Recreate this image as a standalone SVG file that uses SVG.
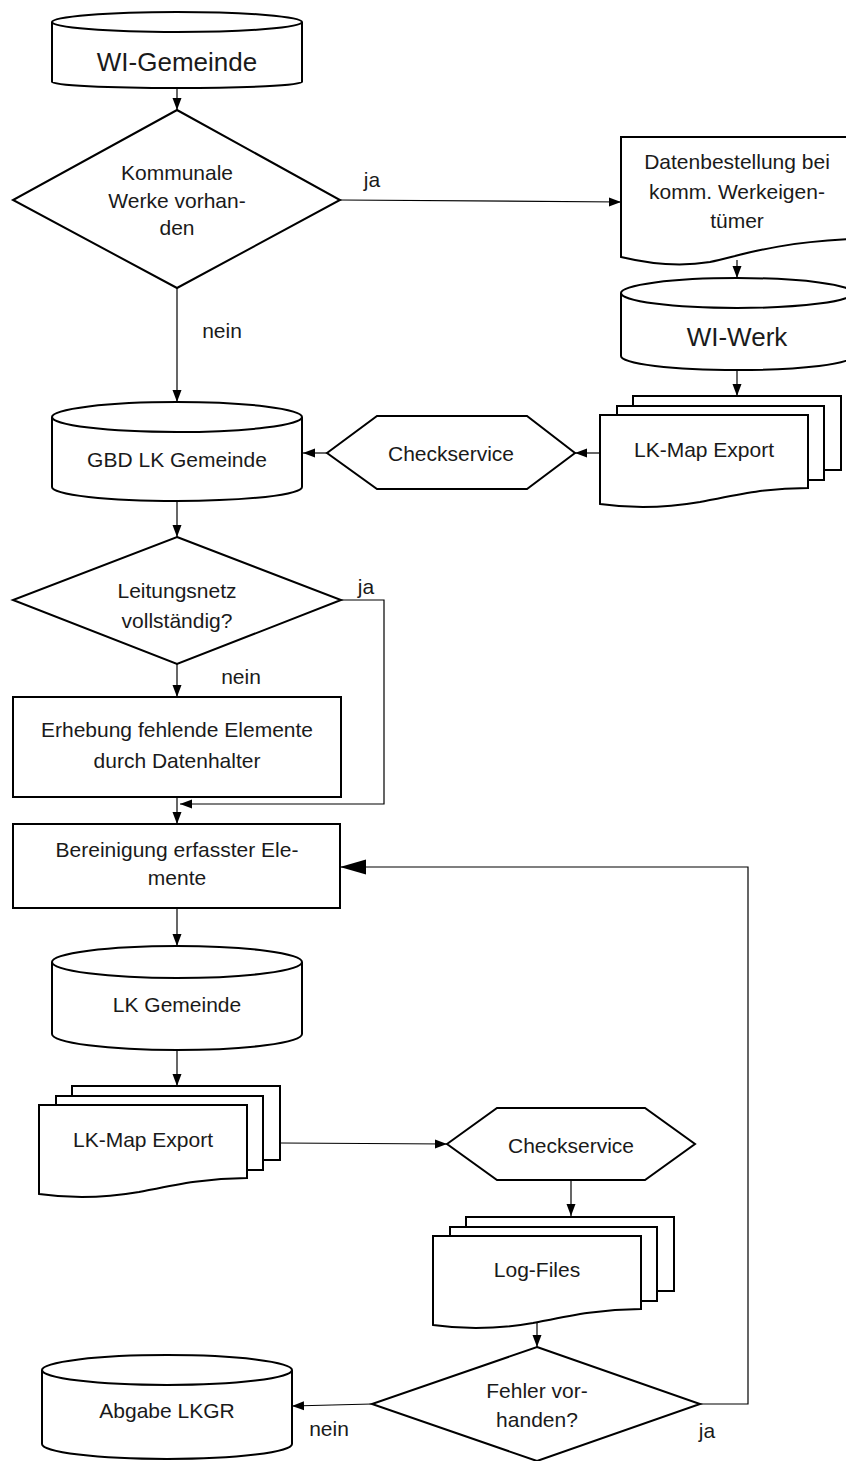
<svg xmlns="http://www.w3.org/2000/svg" xmlns:xlink="http://www.w3.org/1999/xlink" width="846" height="1461" viewBox="0 0 846 1461">
<style>
.s{fill:#fff;stroke:#000;stroke-width:2;stroke-linejoin:miter}
.c{fill:none;stroke:#000;stroke-width:1.2}
.t{font-family:"Liberation Sans",Arial,sans-serif;font-size:21px;fill:#1a1a1a;text-anchor:middle}
.tb{font-family:"Liberation Sans",Arial,sans-serif;font-size:26px;fill:#1a1a1a;text-anchor:middle}
.l{font-family:"Liberation Sans",Arial,sans-serif;font-size:21px;fill:#1a1a1a;text-anchor:middle}
</style>
<defs>
<marker id="ah" markerUnits="userSpaceOnUse" markerWidth="12" markerHeight="10" refX="12" refY="5" orient="auto"><path d="M0,0.5 L12,5 L0,9.5 Z" fill="#000"/></marker>
<marker id="ahb" markerUnits="userSpaceOnUse" markerWidth="26" markerHeight="16" refX="26" refY="8" orient="auto"><path d="M0,0.5 L26,8 L0,15.5 Z" fill="#000"/></marker>
<g id="multidoc">
<rect class="s" x="33" y="-19" width="208" height="74"/>
<rect class="s" x="17" y="-9" width="207" height="74"/>
<path class="s" d="M0,0 H208 V73 C165,73 135,80 100,87 C65,93 35,94 0,89 Z"/>
</g>
</defs>

<g id="connectors">
<line class="c" x1="177" y1="88" x2="177" y2="110" marker-end="url(#ah)"/>
<line class="c" x1="340" y1="200" x2="621" y2="202" marker-end="url(#ah)"/>
<text class="l" x="372" y="187">ja</text>
<line class="c" x1="177" y1="288" x2="177" y2="402" marker-end="url(#ah)"/>
<text class="l" x="222" y="338">nein</text>
<line class="c" x1="737" y1="260" x2="737" y2="278" marker-end="url(#ah)"/>
<line class="c" x1="737" y1="371" x2="737" y2="396" marker-end="url(#ah)"/>
<line class="c" x1="600" y1="453" x2="575" y2="453" marker-end="url(#ah)"/>
<line class="c" x1="327" y1="453" x2="303" y2="453" marker-end="url(#ah)"/>
<line class="c" x1="177" y1="501" x2="177" y2="537" marker-end="url(#ah)"/>
<line class="c" x1="177" y1="664" x2="177" y2="697" marker-end="url(#ah)"/>
<text class="l" x="241" y="684">nein</text>
<polyline class="c" points="341,600 384,600 384,804 180,804" marker-end="url(#ah)"/>
<text class="l" x="366" y="594">ja</text>
<line class="c" x1="177" y1="797" x2="177" y2="824" marker-end="url(#ah)"/>
<line class="c" x1="177" y1="908" x2="177" y2="946" marker-end="url(#ah)"/>
<line class="c" x1="177" y1="1050" x2="177" y2="1086" marker-end="url(#ah)"/>
<line class="c" x1="281" y1="1143" x2="447" y2="1144" marker-end="url(#ah)"/>
<line class="c" x1="571" y1="1180" x2="571" y2="1216" marker-end="url(#ah)"/>
<line class="c" x1="537" y1="1323" x2="537" y2="1347" marker-end="url(#ah)"/>
<line class="c" x1="372" y1="1404" x2="292" y2="1406" marker-end="url(#ah)"/>
<text class="l" x="329" y="1436">nein</text>
<polyline class="c" points="700,1404 748,1404 748,867 340,867" marker-end="url(#ahb)"/>
<text class="l" x="707" y="1438">ja</text>
</g>

<g id="wi-gemeinde">
<path class="s" d="M52,22 V82 A125,6 0 0 0 302,82 V22"/>
<ellipse class="s" cx="177" cy="22" rx="125" ry="10"/>
<text class="tb" x="177" y="71">WI-Gemeinde</text>
</g>

<g id="kommunale-werke">
<polygon class="s" points="177,110 340,200 177,288 13,200"/>
<text class="t" x="177" y="180">Kommunale</text>
<text class="t" x="177" y="208">Werke vorhan-</text>
<text class="t" x="177" y="235">den</text>
</g>

<g id="datenbestellung">
<path class="s" d="M621,137 H853 V239 C770,243 740,256 710,262 C680,267 650,264 621,257 Z"/>
<text class="t" x="737" y="169">Datenbestellung bei</text>
<text class="t" x="737" y="199">komm. Werkeigen-</text>
<text class="t" x="737" y="228">tümer</text>
</g>

<g id="wi-werk">
<path class="s" d="M621,293 V356 A116,14 0 0 0 853,356 V293"/>
<ellipse class="s" cx="737" cy="293" rx="116" ry="15"/>
<text class="tb" x="737" y="346">WI-Werk</text>
</g>

<g id="lkmap-export-1">
<use xlink:href="#multidoc" href="#multidoc" transform="translate(600,415)"/>
<text class="t" x="704" y="457">LK-Map Export</text>
</g>

<g id="checkservice-1">
<polygon class="s" points="327,453 377,416 527,416 575,453 527,489 377,489"/>
<text class="t" x="451" y="461">Checkservice</text>
</g>

<g id="gbd-lk-gemeinde">
<path class="s" d="M52,417 V487 A125,14 0 0 0 302,487 V417"/>
<ellipse class="s" cx="177" cy="417" rx="125" ry="15"/>
<text class="t" x="177" y="467">GBD LK Gemeinde</text>
</g>

<g id="leitungsnetz">
<polygon class="s" points="177,537 341,600 177,664 13,600"/>
<text class="t" x="177" y="598">Leitungsnetz</text>
<text class="t" x="177" y="628">vollständig?</text>
</g>

<g id="erhebung">
<rect class="s" x="13" y="697" width="328" height="100"/>
<text class="t" x="177" y="737">Erhebung fehlende Elemente</text>
<text class="t" x="177" y="768">durch Datenhalter</text>
</g>

<g id="bereinigung">
<rect class="s" x="13" y="824" width="327" height="84"/>
<text class="t" x="177" y="857">Bereinigung erfasster Ele-</text>
<text class="t" x="177" y="885">mente</text>
</g>

<g id="lk-gemeinde">
<path class="s" d="M52,962 V1034 A125,16 0 0 0 302,1034 V962"/>
<ellipse class="s" cx="177" cy="962" rx="125" ry="16"/>
<text class="t" x="177" y="1012">LK Gemeinde</text>
</g>

<g id="lkmap-export-2">
<use xlink:href="#multidoc" href="#multidoc" transform="translate(39,1105)"/>
<text class="t" x="143" y="1147">LK-Map Export</text>
</g>

<g id="checkservice-2">
<polygon class="s" points="447,1144 497,1108 645,1108 695,1144 645,1180 497,1180"/>
<text class="t" x="571" y="1153">Checkservice</text>
</g>

<g id="log-files">
<use xlink:href="#multidoc" href="#multidoc" transform="translate(433,1236)"/>
<text class="t" x="537" y="1277">Log-Files</text>
</g>

<g id="fehler">
<polygon class="s" points="537,1347 700,1404 537,1461 372,1404"/>
<text class="t" x="537" y="1398">Fehler vor-</text>
<text class="t" x="537" y="1427">handen?</text>
</g>

<g id="abgabe-lkgr">
<path class="s" d="M42,1370 V1444 A125,15 0 0 0 292,1444 V1370"/>
<ellipse class="s" cx="167" cy="1370" rx="125" ry="15"/>
<text class="t" x="167" y="1418">Abgabe LKGR</text>
</g>
</svg>
